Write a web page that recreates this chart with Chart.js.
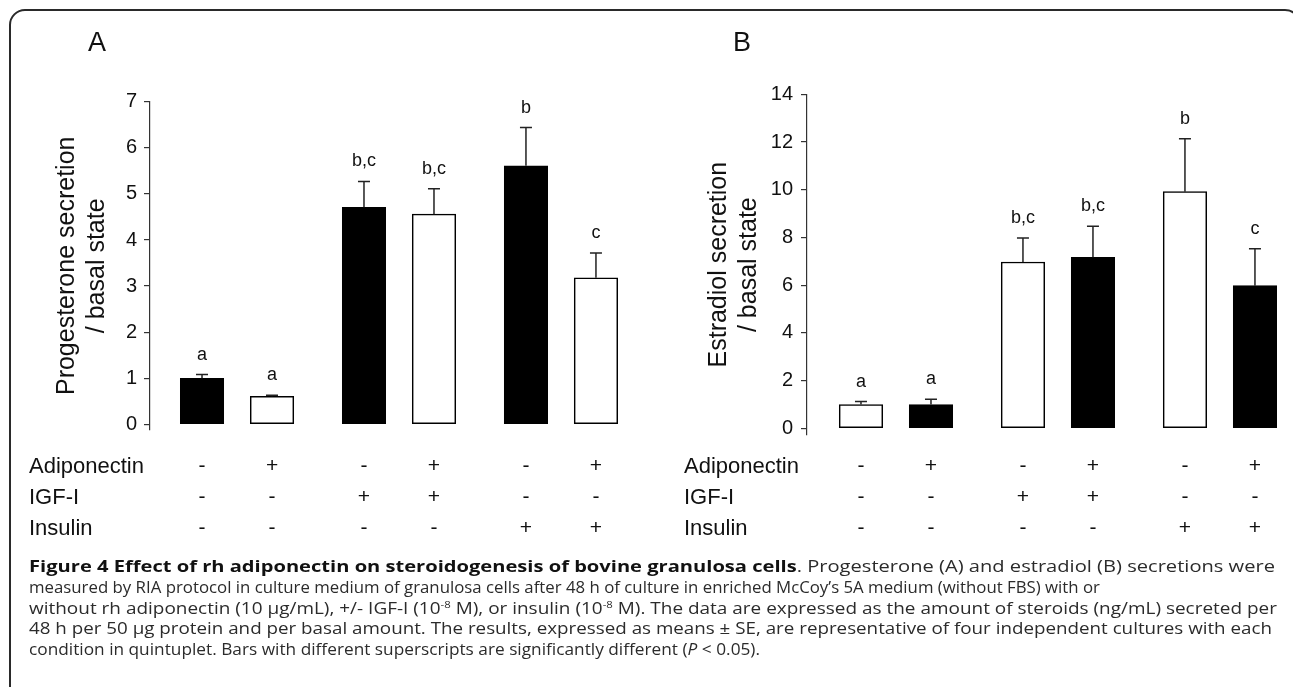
<!DOCTYPE html>
<html>
<head>
<meta charset="utf-8">
<script src="https://cdn.jsdelivr.net/npm/chart.js@4.4.1/dist/chart.umd.min.js"></script>
<style>
  html, body { margin: 0; padding: 0; background: #fff; }
  body { width: 1293px; height: 687px; position: relative; overflow: hidden; }
  #frame { position: absolute; left: 9px; top: 9px; width: 1292px; height: 720px;
           border: 2px solid #2a2a2a; border-radius: 16px; box-sizing: border-box; }
  canvas { position: absolute; top: 0; }
  #cA { left: 0; }
  #cB { left: 640px; }
  .panel { position: absolute; font-family: "Liberation Sans", Arial, sans-serif; font-size: 27px;
           color: #111; transform: translate(-50%, -50%); line-height: 1; }
  #caption { position: absolute; left: 29px; top: 556px; font-family: "Open Sans", sans-serif;
             font-size: 15.5px; line-height: 20.8px; color: #2b2b2b; white-space: nowrap; }
  #caption > div > span { display: inline-block; transform-origin: 0 50%; }
  #caption b { font-weight: 700; color: #111; }
  #caption sup { font-size: 0.6em; line-height: 0; vertical-align: 0.6em; }
</style>
</head>
<body>
<div id="frame"></div>
<canvas id="cA" width="640" height="560" style="width:640px;height:560px"></canvas>
<canvas id="cB" width="653" height="560" style="width:653px;height:560px"></canvas>
<div class="panel" style="left:97px;top:42px">A</div>
<div class="panel" style="left:742px;top:42px">B</div>
<div id="caption">
<div><span data-end="1275"><b>Figure 4 Effect of rh adiponectin on steroidogenesis of bovine granulosa cells</b>. Progesterone (A) and estradiol (B) secretions were</span></div>
<div><span data-end="1100">measured by RIA protocol in culture medium of granulosa cells after 48 h of culture in enriched McCoy’s 5A medium (without FBS) with or</span></div>
<div><span data-end="1277">without rh adiponectin (10 µg/mL), +/- IGF-I (10<sup>-8</sup> M), or insulin (10<sup>-8</sup> M). The data are expressed as the amount of steroids (ng/mL) secreted per</span></div>
<div><span data-end="1272">48 h per 50 µg protein and per basal amount. The results, expressed as means ± SE, are representative of four independent cultures with each</span></div>
<div><span data-end="760">condition in quintuplet. Bars with different superscripts are significantly different (<i>P</i> &lt; 0.05).</span></div>
</div>
<script>
// ---- data ----
const adiponectin = ['-', '+', '-', '+', '-', '+'];
const igf1        = ['-', '-', '+', '+', '-', '-'];
const insulin     = ['-', '-', '-', '-', '+', '+'];
const rowLabels   = ['Adiponectin', 'IGF-I', 'Insulin'];

const progesteroneMeans = [1.00, 0.61, 4.71, 4.56, 5.61, 3.18];
const progesteroneSE    = [0.08, 0.02, 0.56, 0.55, 0.83, 0.54];
const progesteroneSig   = ['a', 'a', 'b,c', 'b,c', 'b', 'c'];
const progesteroneTicks = [0, 1, 2, 3, 4, 5, 6, 7];

const estradiolMeans = [1.00, 1.00, 6.97, 7.17, 9.92, 5.98];
const estradiolSE    = [0.12, 0.22, 1.01, 1.30, 2.22, 1.55];
const estradiolSig   = ['a', 'a', 'b,c', 'b,c', 'b', 'c'];
const estradiolTicks = [0, 2, 4, 6, 8, 10, 12, 14];

// ---- caption line widths fitted to the reference line ends ----
(function fitCaption() {
  const left = 29;
  document.querySelectorAll('#caption span[data-end]').forEach(sp => {
    const w = sp.getBoundingClientRect().width;
    const target = parseFloat(sp.dataset.end) - left;
    sp.style.transform = 'scaleX(' + (target / w) + ')';
  });
})();

// ---- layout helpers ----
const GROUP_STEP = 2.314;                 // spacing between treatment pairs (in bar units)
const barPos = i => Math.floor(i / 2) * GROUP_STEP + (i % 2);
const ROW_Y = [466.5, 497.5, 528.5];
const FONT = '"Liberation Sans", Arial, sans-serif';

const annotate = {
  id: 'annotate',
  afterDatasetsDraw(chart, args, o) {
    const ctx = chart.ctx;
    const meta = chart.getDatasetMeta(0);
    const ys = chart.scales.y;
    ctx.save();
    meta.data.forEach((bar, i) => {
      const yTop = ys.getPixelForValue(o.means[i] + o.se[i]);
      ctx.strokeStyle = '#222';
      ctx.lineWidth = 1.5;
      ctx.beginPath();
      ctx.moveTo(bar.x, bar.y);
      ctx.lineTo(bar.x, yTop);
      ctx.moveTo(bar.x - 6, yTop);
      ctx.lineTo(bar.x + 6, yTop);
      ctx.stroke();
      ctx.fillStyle = '#111';
      ctx.textAlign = 'center';
      ctx.textBaseline = 'alphabetic';
      ctx.font = '18px ' + FONT;
      ctx.fillText(o.letters[i], bar.x, yTop - 15);
      ctx.font = '21px ' + FONT;
      ctx.textBaseline = 'middle';
      [adiponectin, igf1, insulin].forEach((row, r) => ctx.fillText(row[i], bar.x, ROW_Y[r]));
    });
    ctx.textAlign = 'left';
    ctx.textBaseline = 'middle';
    ctx.font = '22px ' + FONT;
    rowLabels.forEach((lab, r) => ctx.fillText(lab, o.labelX, ROW_Y[r]));
    ctx.restore();
  }
};

function makeChart(id, cfg) {
  return new Chart(document.getElementById(id), {
    type: 'bar',
    data: {
      datasets: [{
        data: cfg.means.map((v, i) => ({ x: barPos(i), y: v })),
        backgroundColor: cfg.colors,
        borderColor: '#000',
        borderWidth: 1.5,
        borderSkipped: false,
        barThickness: 43.5
      }]
    },
    options: {
      responsive: false,
      animation: false,
      events: [],
      layout: { padding: { left: 0, top: cfg.padTop, bottom: cfg.padBottom, right: cfg.padRight } },
      plugins: {
        legend: { display: false },
        tooltip: { enabled: false },
        annotate: { means: cfg.means, se: cfg.se, letters: cfg.letters, labelX: cfg.labelX }
      },
      scales: {
        x: { type: 'linear', display: false, offset: false, grid: { offset: false },
             min: cfg.xMin, max: cfg.xMax },
        y: {
          min: cfg.yMin, max: cfg.yMax,
          afterBuildTicks: s => { s.ticks = cfg.ticks.map(v => ({ value: v })); },
          afterFit: s => { s.width = cfg.axisX; },
          grid: { drawOnChartArea: false, drawTicks: true, tickLength: 6, color: '#333', lineWidth: 1.2 },
          border: { display: true, color: '#333', width: 1.2 },
          ticks: { color: '#111', font: { family: FONT, size: 20 }, padding: cfg.tickPad },
          title: {
            display: true, text: cfg.title, color: '#111',
            font: { family: FONT, size: 25, lineHeight: 1.2 },
            padding: { top: cfg.titlePad, bottom: 0 }
          }
        }
      }
    },
    plugins: [annotate]
  });
}

makeChart('cA', {
  means: progesteroneMeans, se: progesteroneSE, letters: progesteroneSig, ticks: progesteroneTicks,
  colors: ['#000', '#fff', '#000', '#fff', '#000', '#fff'],
  title: ['Progesterone secretion', '/ basal state'],
  yMin: -0.12, yMax: 7, xMin: -0.743, xMax: 6.2,
  padTop: 101.7, padBottom: 130.1, padRight: 4,
  axisX: 150, tickPad: 7, titlePad: 52, labelX: 29
});

makeChart('cB', {
  means: estradiolMeans, se: estradiolSE, letters: estradiolSig, ticks: estradiolTicks,
  colors: ['#fff', '#000', '#fff', '#000', '#fff', '#000'],
  title: ['Estradiol secretion', '/ basal state'],
  yMin: -0.28, yMax: 14, xMin: -0.771, xMax: 6.0,
  padTop: 94.3, padBottom: 125, padRight: 12,
  axisX: 167, tickPad: 8, titlePad: 64, labelX: 44
});
</script>
</body>
</html>
